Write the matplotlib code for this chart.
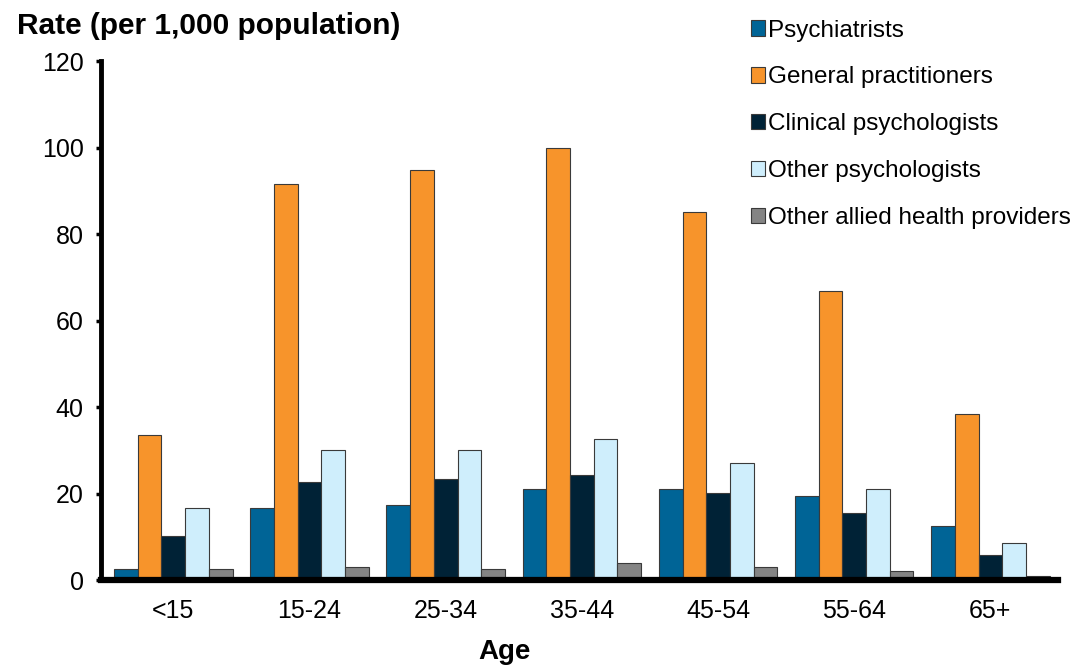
import matplotlib
matplotlib.use('Agg')
import matplotlib.pyplot as plt
import numpy as np

plt.rcParams['font.family'] = ['Liberation Sans', 'DejaVu Sans']

# 数据
ages = ['<15', '15-24', '25-34', '35-44', '45-54', '55-64', '65+']
series_names = ['Psychiatrists', 'General practitioners', 'Clinical psychologists',
                'Other psychologists', 'Other allied health providers']
psychiatrists = [2.7, 16.8, 17.5, 21.2, 21.2, 19.5, 12.7]
general_practitioners = [33.7, 91.6, 94.9, 100.0, 85.2, 66.9, 38.4]
clinical_psychologists = [10.4, 22.8, 23.4, 24.5, 20.3, 15.5, 6.0]
other_psychologists = [16.8, 30.2, 30.2, 32.7, 27.2, 21.1, 8.6]
other_allied = [2.6, 3.2, 2.7, 4.0, 3.2, 2.2, 1.1]

values = [psychiatrists, general_practitioners, clinical_psychologists,
          other_psychologists, other_allied]
colors = ['#006496', '#F7942B', '#002236', '#CFEEFC', '#848484']

fig = plt.figure(figsize=(10.84, 6.66), dpi=100)
ax = fig.add_axes([0.0932, 0.1284, 0.8828, 0.7793])

x = np.arange(len(ages))
w = 0.174
for i, (vals, name, col) in enumerate(zip(values, series_names, colors)):
    ax.bar(x + (i - 2) * w, vals, w, color=col, edgecolor='#3a3a3a',
           linewidth=0.8, label=name)

ax.set_xlim(-0.531, 6.496)
ax.set_ylim(0, 120)
ax.set_yticks(np.arange(0, 121, 20))
ax.set_xticks(x)
ax.set_xticklabels(ages)
ax.tick_params(axis='y', labelsize=18, width=2.5, length=3.5, direction='out', pad=9)
ax.tick_params(axis='x', labelsize=18, length=0, pad=13)

for s in ['top', 'right']:
    ax.spines[s].set_visible(False)
ax.spines['left'].set_linewidth(3.5)
ax.spines['bottom'].set_linewidth(4.5)

fig.text(0.016, 0.961, 'Rate (per 1,000 population)', fontsize=21.5,
         fontweight='bold', va='center', ha='left')
fig.text(0.465, 0.021, 'Age', fontsize=20, fontweight='bold', va='center', ha='center')

ax.legend(loc='upper left', bbox_to_anchor=(0.677, 0.996), bbox_transform=fig.transFigure,
          frameon=False, fontsize=17.5, handlelength=0.6, handleheight=0.6,
          handletextpad=0.12, labelspacing=1.02, borderaxespad=0.3)

fig.savefig('out.png', dpi=100)
